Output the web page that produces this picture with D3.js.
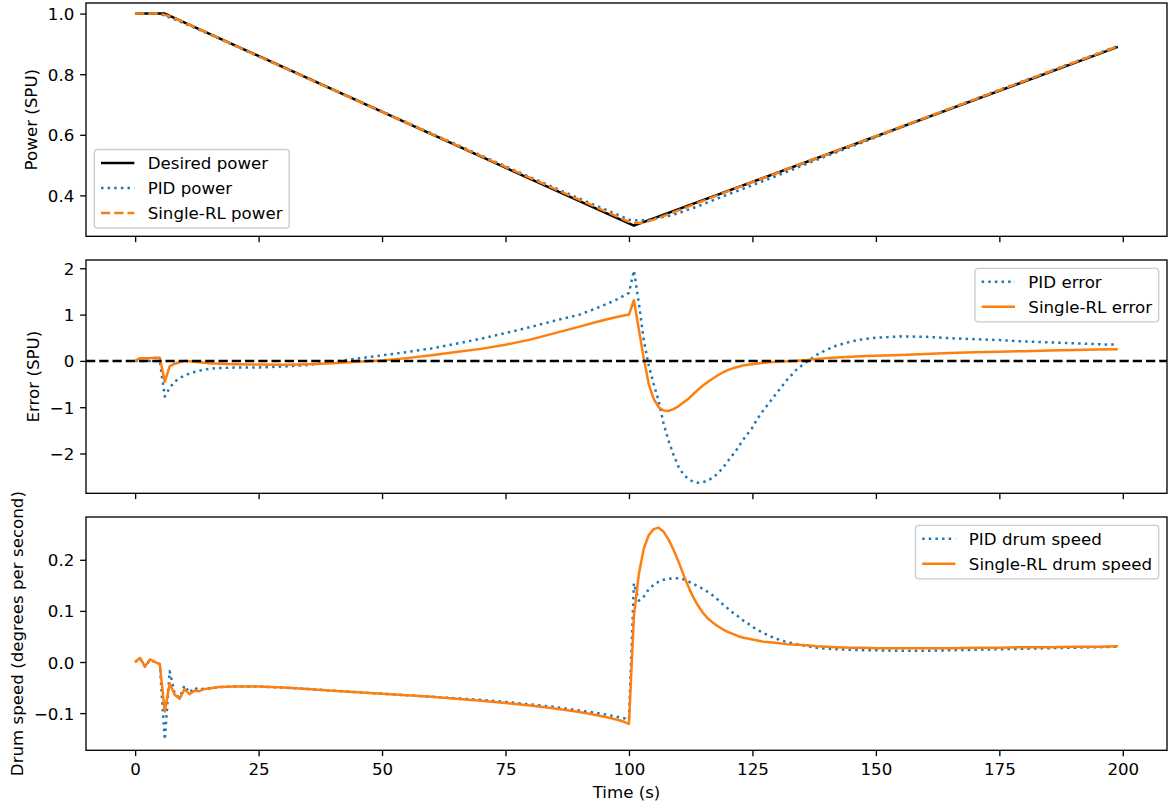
<!DOCTYPE html>
<html>
<head>
<meta charset="utf-8">
<script src="https://cdn.jsdelivr.net/npm/d3@7"></script>
<style>
  body { margin: 0; background: #ffffff; }
  svg { display: block; font-family: "DejaVu Sans", sans-serif; }
</style>
</head>
<body>
<svg id="fig" width="1172" height="806"></svg>
<script>
// ---- data -------------------------------------------------------------
// shared time base (s) for the error and drum-speed traces
const time = [0,1,2,3,4,5,6,7,8,9,10,11,12,13,14,15,17,20,25,30,35,40,45,50,55,60,65,70,75,80,85,90,
  93,96,98,99,100,101,102,103,104,105,106,107,108,109,110,111,112,113,114,115,116,117,118,119,120,
  121,122,123,124,125,126,127,128,129,130,132,134,136,138,140,142,145,148,150,155,160,165,170,175,
  180,185,190,195,199];

const pidError = [0,0,0,0,0,0,-0.77,-0.58,-0.45,-0.37,-0.32,-0.27,-0.24,-0.21,-0.19,-0.17,
  -0.155,-0.145,-0.14,-0.12,-0.09,-0.02,0.05,0.12,0.19,0.27,0.37,0.48,0.6,0.73,0.87,1.0,
  1.12,1.25,1.35,1.41,
  1.47,1.95,1.25,0.45,-0.1,-0.5,-0.86,-1.35,-1.72,-2.02,-2.28,-2.45,-2.55,-2.61,-2.63,-2.62,-2.58,
  -2.52,-2.43,-2.31,-2.17,-2.03,-1.89,-1.72,-1.58,-1.44,-1.25,-1.1,-0.96,-0.82,-0.68,
  -0.41,-0.18,-0.02,0.13,0.24,
  0.33,0.42,0.48,0.5,0.53,0.52,0.49,0.47,0.45,0.42,0.4,0.38,0.36,0.35];

const rlError = [0,0.06,0.06,0.06,0.07,0.07,-0.45,-0.12,-0.06,-0.03,0,-0.01,-0.02,-0.03,-0.04,-0.05,
  -0.06,-0.07,-0.08,-0.085,-0.07,-0.05,-0.02,0.01,0.06,0.12,0.19,0.26,0.35,0.46,0.6,0.74,
  0.83,0.91,0.96,0.98,
  1.0,1.31,0.68,0.05,-0.5,-0.82,-1.0,-1.07,-1.08,-1.04,-0.98,-0.9,-0.82,-0.72,-0.62,-0.53,-0.45,
  -0.38,-0.31,-0.25,-0.2,-0.16,-0.13,-0.1,-0.085,-0.07,-0.055,-0.045,-0.035,-0.025,-0.02,
  -0.01,0.005,0.02,0.04,0.06,
  0.075,0.09,0.105,0.11,0.13,0.15,0.17,0.185,0.2,0.21,0.225,0.235,0.245,0.25];

const pidSpeed = [0,0.007,-0.009,0.004,0,-0.004,-0.152,-0.018,-0.062,-0.07,-0.046,-0.06,-0.05,-0.055,-0.051,-0.052,
  -0.049,-0.048,-0.048,-0.05,-0.053,-0.056,-0.059,-0.062,-0.065,-0.068,-0.071,-0.074,-0.078,-0.083,-0.088,-0.095,
  -0.099,-0.104,-0.108,-0.11,
  -0.112,0.154,0.12,0.128,0.142,0.151,0.157,0.161,0.163,0.164,0.164,0.162,0.158,0.153,0.148,0.143,0.137,
  0.13,0.122,0.113,0.105,0.097,0.09,0.082,0.076,0.069,0.063,0.058,0.053,0.049,0.045,
  0.039,0.035,0.031,0.028,0.026,
  0.025,0.024,0.023,0.023,0.022,0.022,0.023,0.024,0.025,0.026,0.027,0.028,0.029,0.03];

const rlSpeed = [0,0.008,-0.009,0.005,0,-0.004,-0.097,-0.042,-0.064,-0.072,-0.053,-0.063,-0.056,-0.057,-0.053,-0.052,
  -0.049,-0.048,-0.048,-0.05,-0.053,-0.056,-0.059,-0.062,-0.065,-0.068,-0.072,-0.076,-0.08,-0.085,-0.091,-0.098,
  -0.103,-0.109,-0.114,-0.117,
  -0.121,0.09,0.172,0.222,0.248,0.26,0.263,0.255,0.24,0.22,0.197,0.172,0.148,0.127,0.11,0.096,0.085,
  0.077,0.07,0.064,0.059,0.055,0.051,0.048,0.046,0.044,0.042,0.04,0.039,0.038,0.037,
  0.035,0.034,0.033,0.031,0.03,
  0.029,0.028,0.028,0.027,0.027,0.027,0.027,0.028,0.028,0.029,0.029,0.03,0.03,0.031];

// power traces (SPU)
const desiredTime = [0, 6, 101, 199];
const desiredPower = [1.0, 1.0, 0.30, 0.89];

const powerTime = [0,5,6,7,8,10,12,15,20,30,40,50,60,70,80,90,95,98,100,101,102,103,104,105,106,
  108,110,112,114,116,118,120,123,126,130,135,140,150,160,175,199];
const pidPower = [1.0,1.0,0.9923,0.9868,0.9809,0.9674,0.9535,0.9321,0.8955,0.8222,0.7494,0.6770,0.6045,
  0.5320,0.4600,0.3890,0.3550,0.3340,0.3200,0.3180,0.3170,0.3180,0.3200,0.3230,0.3260,0.3320,0.3410,
  0.3530,0.3640,0.3770,0.3900,0.4030,0.4210,0.4400,0.4650,0.4980,0.5300,0.5920,0.6560,0.7480,0.8930];
const rlPower = [1.0,1.0,0.9955,0.9914,0.9847,0.9705,0.9556,0.9332,0.8962,0.8225,0.7491,0.6759,0.6030,
  0.5302,0.4575,0.3850,0.3490,0.3270,0.3130,0.3100,0.3090,0.3110,0.3150,0.3200,0.3260,0.3380,0.3505,
  0.3630,0.3758,0.3883,0.4010,0.4135,0.4320,0.4503,0.4745,0.5047,0.5351,0.5957,0.6562,0.7470,0.8922];

const errorZero = [0, 0];

// tick values
const timeTicks = [0, 25, 50, 75, 100, 125, 150, 175, 200];
const powerTicks = [0.4, 0.6, 0.8, 1.0];
const errorTicks = [-2, -1, 0, 1, 2];
const speedTicks = [-0.1, 0.0, 0.1, 0.2];

// ---- styling ----------------------------------------------------------
const PT = 120 / 72;              // pixels per point
const FS = 10 * PT;               // font size
const LW = 1.5 * PT;              // line width
const BLUE = "#1f77b4", ORANGE = "#ff7f0e", BLACK = "#000000";
const DOTTED = [1 * LW, 1.65 * LW].join(",");
const DASHED = [3.7 * LW, 1.6 * LW].join(",");

const svg = d3.select("#fig");
const plotLeft = 86, plotRight = 1167;
const panelBoxes = [
  { top: 3, bottom: 236.3 },
  { top: 260, bottom: 493.3 },
  { top: 517, bottom: 750.3 }
];

const zip = (xs, ys) => xs.map((x, i) => [x, ys[i]]);

// shared time axis with 5% margins around the data range
const tExt = [0, 199];
const tPad = (tExt[1] - tExt[0]) * 0.05;
const x = d3.scaleLinear().domain([tExt[0] - tPad, tExt[1] + tPad]).range([plotLeft, plotRight]);

function paddedDomain(arrays) {
  const lo = d3.min(arrays, a => d3.min(a));
  const hi = d3.max(arrays, a => d3.max(a));
  const p = (hi - lo) * 0.05;
  return [lo - p, hi + p];
}

function drawPanel(idx, cfg) {
  const box = panelBoxes[idx];
  const y = d3.scaleLinear().domain(cfg.domain).range([box.bottom, box.top]);
  const g = svg.append("g");
  const clipId = "clip" + idx;
  svg.append("clipPath").attr("id", clipId).append("rect")
    .attr("x", plotLeft).attr("y", box.top)
    .attr("width", plotRight - plotLeft).attr("height", box.bottom - box.top);

  const line = d3.line().x(d => x(d[0])).y(d => y(d[1]));
  const lines = g.append("g").attr("clip-path", `url(#${clipId})`);
  cfg.series.forEach(s => {
    lines.append("path")
      .attr("d", line(s.points))
      .attr("fill", "none")
      .attr("stroke", s.color)
      .attr("stroke-width", LW)
      .attr("stroke-linejoin", "round")
      .attr("stroke-dasharray", s.dash || null);
  });

  // y axis
  const yAxis = d3.axisLeft(y).tickValues(cfg.ticks)
    .tickFormat(d3.format(cfg.fmt)).tickSizeOuter(0)
    .tickSize(3.5 * PT).tickPadding(3.5 * PT);
  const ya = g.append("g").attr("transform", `translate(${plotLeft},0)`).call(yAxis);
  // x axis
  const xAxis = d3.axisBottom(x).tickValues(timeTicks)
    .tickFormat(cfg.showX ? d3.format("d") : "").tickSizeOuter(0)
    .tickSize(3.5 * PT).tickPadding(3.5 * PT);
  const xa = g.append("g").attr("transform", `translate(0,${box.bottom})`).call(xAxis);

  [ya, xa].forEach(a => {
    a.select(".domain").remove();
    a.selectAll("line").attr("stroke", BLACK).attr("stroke-width", 0.8 * PT);
    a.selectAll("text").attr("fill", BLACK).attr("font-size", FS)
      .attr("font-family", '"DejaVu Sans", sans-serif');
  });
  ya.selectAll("text").attr("dy", "0.36em");
  xa.selectAll("text").attr("dy", "0.76em");

  // frame
  g.append("rect")
    .attr("x", plotLeft).attr("y", box.top)
    .attr("width", plotRight - plotLeft).attr("height", box.bottom - box.top)
    .attr("fill", "none").attr("stroke", BLACK).attr("stroke-width", 0.8 * PT);

  // y label placed left of the widest tick label
  const tickLeft = d3.min(ya.selectAll("text").nodes(), n => n.getBBox().x) + plotLeft;
  const yc = (box.top + box.bottom) / 2;
  g.append("text")
    .attr("transform", `translate(${tickLeft - 4 * PT - 0.236 * FS},${yc}) rotate(-90)`)
    .attr("text-anchor", "middle")
    .attr("font-size", FS)
    .attr("fill", BLACK)
    .text(cfg.ylabel);

  if (cfg.showX) {
    g.append("text")
      .attr("x", (plotLeft + plotRight) / 2)
      .attr("y", box.bottom + 7 * PT + FS + 4 * PT + 0.76 * FS)
      .attr("text-anchor", "middle")
      .attr("font-size", FS)
      .attr("fill", BLACK)
      .text("Time (s)");
  }

  drawLegend(g, box, cfg.series.filter(s => s.label), cfg.legendLoc);
}

function drawLegend(g, box, items, loc) {
  const pad = 0.4 * FS, handle = 2 * FS, gap = 0.8 * FS, axPad = 0.5 * FS;
  const rowStep = 25, firstRow = 13.5, lastRow = 15;
  const tmp = g.append("text").attr("font-size", FS);
  const textW = d3.max(items, it => { tmp.text(it.label); return tmp.node().getComputedTextLength(); });
  tmp.remove();
  const w = pad + handle + gap + textW + pad;
  const h = firstRow + (items.length - 1) * rowStep + lastRow;
  let lx, ly;
  if (loc === "lower left") { lx = plotLeft + axPad; ly = box.bottom - axPad - h; }
  else { lx = plotRight - axPad - w; ly = box.top + axPad; }
  const lg = g.append("g").attr("transform", `translate(${lx},${ly})`);
  lg.append("rect").attr("width", w).attr("height", h)
    .attr("rx", 0.2 * FS).attr("ry", 0.2 * FS)
    .attr("fill", "#ffffff").attr("fill-opacity", 0.8)
    .attr("stroke", "#cccccc").attr("stroke-width", 1.0 * PT * 0.8);
  items.forEach((it, i) => {
    const cy = firstRow + i * rowStep;
    lg.append("line")
      .attr("x1", pad).attr("x2", pad + handle)
      .attr("y1", cy).attr("y2", cy)
      .attr("stroke", it.color).attr("stroke-width", LW)
      .attr("stroke-dasharray", it.dash || null);
    lg.append("text")
      .attr("x", pad + handle + gap).attr("y", cy).attr("dy", "0.36em")
      .attr("font-size", FS).attr("fill", BLACK)
      .text(it.label);
  });
}

// ---- panels -----------------------------------------------------------
drawPanel(0, {
  domain: paddedDomain([desiredPower, pidPower, rlPower]),
  ticks: powerTicks, fmt: ".1f", ylabel: "Power (SPU)", legendLoc: "lower left",
  series: [
    { label: "Desired power", color: BLACK, points: zip(desiredTime, desiredPower) },
    { label: "PID power", color: BLUE, dash: DOTTED, points: zip(powerTime, pidPower) },
    { label: "Single-RL power", color: ORANGE, dash: DASHED, points: zip(powerTime, rlPower) }
  ]
});

drawPanel(1, {
  domain: paddedDomain([pidError, rlError, errorZero]),
  ticks: errorTicks, fmt: "d", ylabel: "Error (SPU)", legendLoc: "upper right",
  series: [
    { label: "PID error", color: BLUE, dash: DOTTED, points: zip(time, pidError) },
    { label: "Single-RL error", color: ORANGE, points: zip(time, rlError) },
    { color: BLACK, dash: DASHED, points: zip([x.domain()[0], x.domain()[1]], errorZero) }
  ]
});

drawPanel(2, {
  domain: paddedDomain([pidSpeed, rlSpeed]),
  ticks: speedTicks, fmt: ".1f", ylabel: "Drum speed (degrees per second)", legendLoc: "upper right",
  showX: true,
  series: [
    { label: "PID drum speed", color: BLUE, dash: DOTTED, points: zip(time, pidSpeed) },
    { label: "Single-RL drum speed", color: ORANGE, points: zip(time, rlSpeed) }
  ]
});
</script>
</body>
</html>
